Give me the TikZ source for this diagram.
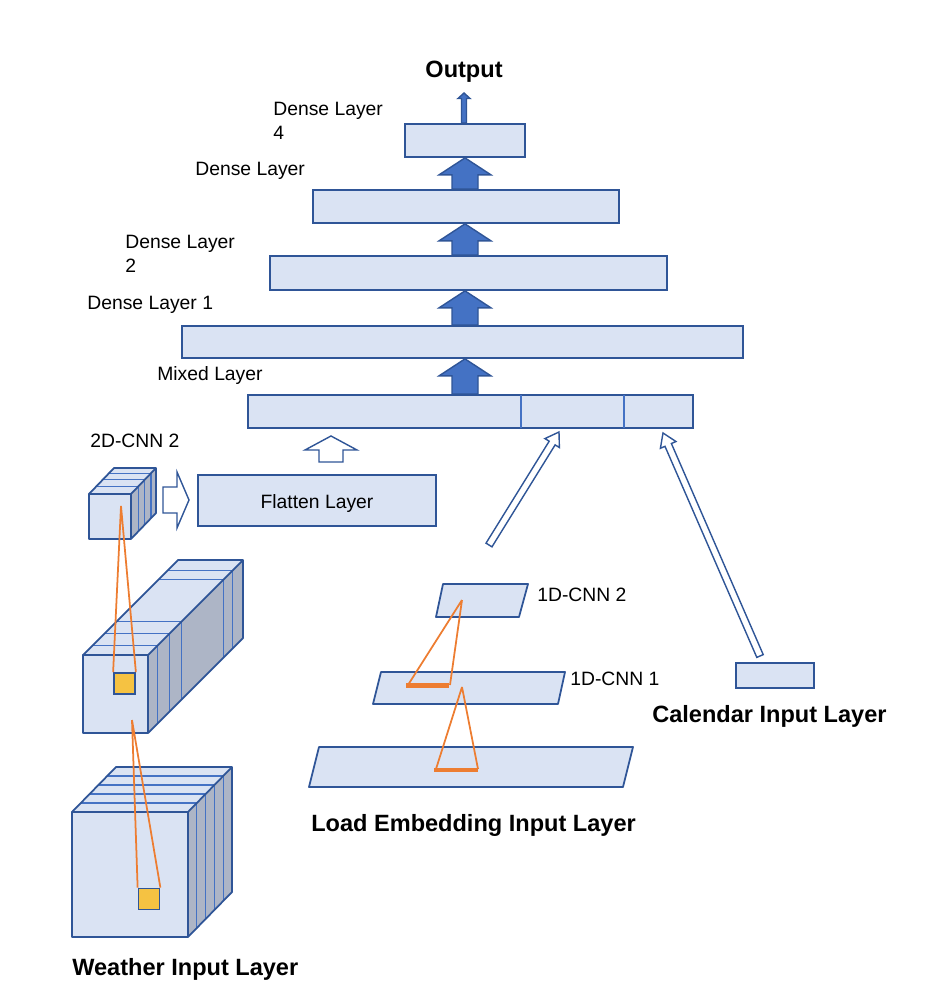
\documentclass[tikz,border=0pt]{standalone}
\usepackage{fontspec}
\setmainfont{Liberation Sans}
\usetikzlibrary{calc}
\definecolor{boxfill}{HTML}{DAE3F3}
\definecolor{boxline}{HTML}{2F5597}
\definecolor{arrowblue}{HTML}{4472C4}
\definecolor{sidegrey}{HTML}{ADB5C6}
\definecolor{kernelorange}{HTML}{ED7D31}
\definecolor{kernelyellow}{HTML}{F5C242}
\tikzset{
  layer/.style={draw=boxline, fill=boxfill, line width=1pt, inner sep=0pt},
  face/.style={draw=boxline, line width=1pt, line join=round},
  slice/.style={draw=arrowblue, line width=0.6pt},
  solidarrow/.style={draw=boxline, fill=arrowblue, line width=0.8pt},
  hollowarrow/.style={draw=boxline, fill=white, line width=0.8pt},
  kernel/.style={draw=boxline, fill=kernelyellow, line width=1pt, minimum size=0.42cm, inner sep=0pt},
  field/.style={draw=kernelorange, line width=1pt},
  bar/.style={draw=kernelorange, line width=2.4pt},
  lbl/.style={font=\fontsize{11}{14}\selectfont, align=left, inner sep=0pt},
  title/.style={font=\fontsize{13.4}{16}\selectfont\bfseries, inner sep=0pt},
}
% block arrow: style, tail, tip, shaft half width, head half width, head length
\newcommand{\blockarrow}[6]{%
  \path (#2) coordinate (bt) (#3) coordinate (bh);
  \path ($(bh)!#6!(bt)$) coordinate (hb);
  \draw[#1] ($(bt)!#4!90:(bh)$) -- ($(hb)!#4!90:(bh)$) -- ($(hb)!#5!90:(bh)$)
    -- (bh) -- ($(hb)!#5!-90:(bh)$) -- ($(hb)!#4!-90:(bh)$) -- ($(bt)!#4!-90:(bh)$) -- cycle;
}
% cuboid: x, y, w, h (front face), dx, dy (depth), slices
\newcommand{\cuboid}[7]{%
  \fill[boxfill] (#1,#2) -- ({#1+#3},#2) -- ({#1+#3+#5},{#2-#6}) -- ({#1+#5},{#2-#6}) -- cycle;
  \fill[sidegrey] ({#1+#3},#2) -- ({#1+#3+#5},{#2-#6}) -- ({#1+#3+#5},{#2+#4-#6}) -- ({#1+#3},{#2+#4}) -- cycle;
  \fill[boxfill] (#1,#2) rectangle ({#1+#3},{#2+#4});
  \foreach \t in {#7}
    \draw[slice] ({#1+\t*#5},{#2-\t*#6}) -- ({#1+#3+\t*#5},{#2-\t*#6}) -- ({#1+#3+\t*#5},{#2+#4-\t*#6});
  \draw[face] (#1,#2) -- ({#1+#5},{#2-#6}) -- ({#1+#3+#5},{#2-#6}) -- ({#1+#3+#5},{#2+#4-#6}) -- ({#1+#3},{#2+#4});
  \draw[face] ({#1+#3},#2) -- ({#1+#3+#5},{#2-#6});
  \draw[face] (#1,#2) rectangle ({#1+#3},{#2+#4});
}

\begin{document}
\begin{tikzpicture}[x=0.02cm, y=-0.02cm]
  \useasboundingbox (0,0) rectangle (932,1000);

  % dense stack
  \node[layer, minimum width=2.4cm, minimum height=0.66cm] (dense4) at (465,140.5) {};
  \node[layer, minimum width=6.12cm, minimum height=0.66cm] (dense3) at (466,206.5) {};
  \node[layer, minimum width=7.94cm, minimum height=0.68cm] (dense2) at (468.5,273) {};
  \node[layer, minimum width=11.22cm, minimum height=0.64cm] (dense1) at (462.5,342) {};
  \node[layer, minimum width=8.9cm, minimum height=0.66cm] (mixed) at (470.5,411.5) {};
  \draw[slice] (521,395) -- (521,428);
  \draw[slice] (624,395) -- (624,428);
  \node[layer, minimum width=4.76cm, minimum height=1.02cm] (flatten) at (317,500.5) {};
  \node[lbl] (flattenlbl) at (317,503) {Flatten Layer};
  \node[layer, minimum width=1.56cm, minimum height=0.5cm] (calendar) at (775,675.5) {};

  \node[title] (output) at (464,72) {Output};
  \node[lbl, anchor=west] (dense4lbl) at (273,121) {Dense Layer\\4};
  \node[lbl, anchor=west] (dense3lbl) at (195,171) {Dense Layer};
  \node[lbl, anchor=west] (dense2lbl) at (125,254) {Dense Layer\\2};
  \node[lbl, anchor=west] (dense1lbl) at (87,305) {Dense Layer 1};
  \node[lbl, anchor=west] (mixedlbl) at (157,376) {Mixed Layer};
  \node[lbl, anchor=west] (cnn2dlbl) at (90,441) {2D-CNN 2};
  \node[lbl, anchor=west] (cnn1dtwolbl) at (537,595) {1D-CNN 2};
  \node[lbl, anchor=west] (cnn1donelbl) at (570,679) {1D-CNN 1};
  \node[title, anchor=west] (weatherlbl) at (72,969) {Weather Input Layer};
  \node[title, anchor=west] (loadlbl) at (311,825) {Load Embedding Input Layer};
  \node[title, anchor=west] (calendarlbl) at (652,716) {Calendar Input Layer};

  \coordinate (axis) at (465,0);
  \coordinate (outtip) at (464,93);
  \blockarrow{solidarrow}{dense4.north -| outtip}{outtip}{0.05cm}{0.12cm}{0.11cm}
  \blockarrow{solidarrow}{axis |- dense3.north}{axis |- dense4.south}{0.26cm}{0.52cm}{0.34cm}
  \blockarrow{solidarrow}{axis |- dense2.north}{axis |- dense3.south}{0.26cm}{0.52cm}{0.34cm}
  \blockarrow{solidarrow}{axis |- dense1.north}{axis |- dense2.south}{0.26cm}{0.52cm}{0.34cm}
  \blockarrow{solidarrow}{axis |- mixed.north}{axis |- dense1.south}{0.26cm}{0.52cm}{0.34cm}

  % weather branch
  \cuboid{72}{812}{116}{125}{44}{45}{0.2,0.4,0.6,0.8}
  \cuboid{83}{655}{65}{78}{95}{95}{0.1,0.23,0.35,0.79,0.89}
  \cuboid{89}{494}{42}{45}{25}{26}{0.3,0.55,0.8}
  \node[kernel] (kernelmid) at (124.5,683.5) {};
  \node[kernel] (kernellow) at (149,899) {};
  \coordinate (fieldtop) at (121,506);
  \coordinate (fieldmid) at (132,720);
  \draw[field] (fieldtop) -- (kernelmid.north west) (fieldtop) -- (kernelmid.north east);
  \draw[field] (fieldmid) -- (kernellow.north west) (fieldmid) -- (kernellow.north east);

  \coordinate (cubetail) at (163,500);
  \coordinate (cubetip) at (189,500);
  \blockarrow{hollowarrow}{cubetail}{cubetip}{0.26cm}{0.56cm}{0.24cm}
  \coordinate (flattentail) at (331,462);
  \coordinate (flattentip) at (331,436);
  \blockarrow{hollowarrow}{flattentail}{flattentip}{0.24cm}{0.52cm}{0.28cm}

  % load branch
  \draw[face, fill=boxfill] (443,584) -- (528,584) -- (519,617) -- (436,617) -- cycle;
  \draw[face, fill=boxfill] (381,672) -- (565,672) -- (558,704) -- (373,704) -- cycle;
  \draw[face, fill=boxfill] (319,747) -- (633,747) -- (623,787) -- (309,787) -- cycle;
  \draw[field] (462,600) -- (408,685) (462,600) -- (450,685);
  \draw[bar] (406,685.5) -- (449,685.5);
  \draw[field] (462,687) -- (436,769) (462,687) -- (478,769);
  \draw[bar] (434,770) -- (478,770);

  \coordinate (loadtail) at (489,545);
  \coordinate (loadtip) at (559,432);
  \blockarrow{hollowarrow}{loadtail}{loadtip}{0.07cm}{0.17cm}{0.26cm}
  \coordinate (caltail) at (760,656);
  \coordinate (caltip) at (663,433);
  \blockarrow{hollowarrow}{caltail}{caltip}{0.07cm}{0.17cm}{0.26cm}
\end{tikzpicture}
\end{document}
